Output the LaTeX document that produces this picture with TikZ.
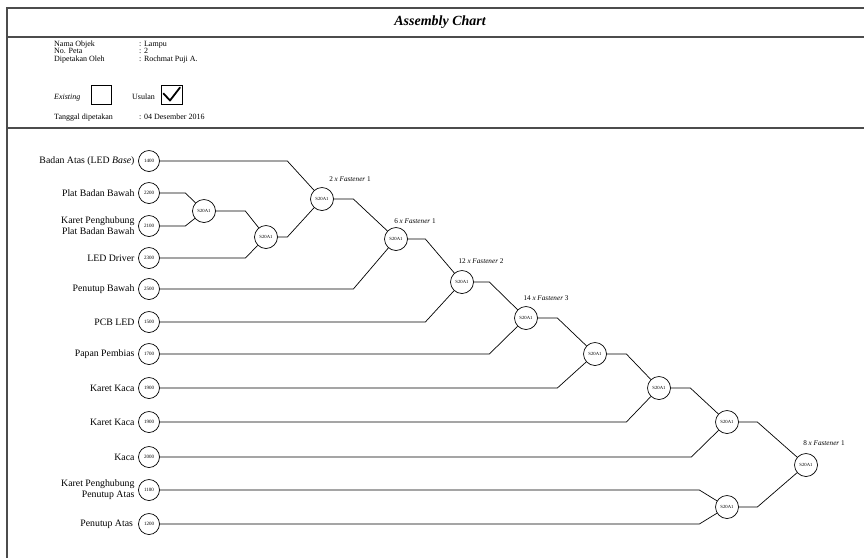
\documentclass[tikz,border=0pt]{standalone}
\usepackage{fontspec}
\setmainfont{Liberation Serif}
\usetikzlibrary{positioning, calc}
\tikzset{
  conn/.style     = {line width=0.7pt},
  frameline/.style = {draw=black!70, line width=1.4pt},
  %% Circle presets
  partc/.style = {circle, draw, line width=0.7pt, minimum size=21pt, inner sep=0pt, font=\fontsize{5}{6}\selectfont},
  asmc/.style  = {circle, draw, line width=0.7pt, minimum size=23pt, inner sep=0pt, font=\fontsize{4.7}{5}\selectfont},
  %% Text presets
  partlbl/.style = {font=\fontsize{9.8}{11}\selectfont, align=right, inner sep=0pt},
  fastlbl/.style = {font=\fontsize{7.2}{8}\selectfont, inner sep=0pt},
  infolbl/.style = {font=\fontsize{8}{9}\selectfont, anchor=base west, inner sep=0pt},
  chkbox/.style  = {draw, line width=0.7pt, minimum width=20pt, minimum height=19pt, inner sep=0pt},
}

\begin{document}
\begin{tikzpicture}[x=1pt, y=-1pt]
\useasboundingbox (0,0) rectangle (864,558);

%% ---- Frame ----
\draw[frameline, line join=miter] (864,8) -- (7,8) -- (7,558);
\draw[frameline] (7,37) -- (864,37);
\draw[frameline] (7,128) -- (864,128);

\node[font=\fontsize{14}{16}\selectfont\bfseries\itshape] (title) at (440,22.5) {Assembly Chart};

%% ---- Header info ----
\node[infolbl] (nama)    at (54,46.7)  {Nama Objek};
\node[infolbl] (namav)   at (139,46.7) {: Lampu};
\node[infolbl] (peta)    at (54,53.6)  {No. Peta};
\node[infolbl] (petav)   at (139,53.6) {: 2};
\node[infolbl] (oleh)    at (54,61)    {Dipetakan Oleh};
\node[infolbl] (olehv)   at (139,61)   {: Rochmat Puji A.};

\node[infolbl] (exist)   at (54,99.4)  {\itshape Existing};
\node[chkbox]  (existbox)  at (101,94.5) {};
\node[infolbl] (usulan)  at (132,99.4) {Usulan};
\node[chkbox, minimum width=21pt] (usulanbox) at (171.5,94.5) {};
\draw[line width=1.8pt, line join=round, line cap=round]
  ($(usulanbox.center)+(-8,-1)$) -- ($(usulanbox.center)+(-1.5,6)$) -- ($(usulanbox.center)+(8.5,-7)$);

\node[infolbl] (tgl)     at (54,119.7)  {Tanggal dipetakan};
\node[infolbl] (tglv)    at (139,119.7) {: 04 Desember 2016};

%% ---- (1) Parts ----
\node[partc] (p1400)  at (149,161) {1400};
\node[partc] (p2200)  at (149,193) {2200};
\node[partc] (p2100)  at (149,226) {2100};
\node[partc] (p2300)  at (149,258) {2300};
\node[partc] (p2500)  at (149,289) {2500};
\node[partc] (p1500)  at (149,322) {1500};
\node[partc] (p1700)  at (149,354) {1700};
\node[partc] (p1900a) at (149,388) {1900};
\node[partc] (p1900b) at (149,422) {1900};
\node[partc] (p2000)  at (149,457) {2000};
\node[partc] (p1100)  at (149,490) {1100};
\node[partc] (p1200)  at (149,524) {1200};

\node[partlbl, left=3.5pt of p1400]  (t1400)  {Badan Atas (LED \textit{Base})};
\node[partlbl, left=3.5pt of p2200]  (t2200)  {Plat Badan Bawah};
\node[partlbl, left=3.5pt of p2100]  (t2100)  {Karet Penghubung\\Plat Badan Bawah};
\node[partlbl, left=3.5pt of p2300]  (t2300)  {LED Driver};
\node[partlbl, left=3.5pt of p2500]  (t2500)  {Penutup Bawah};
\node[partlbl, left=3.5pt of p1500]  (t1500)  {PCB LED};
\node[partlbl, left=3.5pt of p1700]  (t1700)  {Papan Pembias};
\node[partlbl, left=3.5pt of p1900a] (t1900a) {Karet Kaca};
\node[partlbl, left=3.5pt of p1900b] (t1900b) {Karet Kaca};
\node[partlbl, left=3.5pt of p2000]  (t2000)  {Kaca};
\node[partlbl, left=3.5pt of p1100]  (t1100)  {Karet Penghubung\\Penutup Atas};
\node[partlbl, left=5pt of p1200]    (t1200)  {Penutup Atas};

%% ---- (2) Assembly steps ----
\node[asmc] (a1)  at (204,211) {S20A1};
\node[asmc] (a2)  at (266,237) {S20A1};
\node[asmc] (a3)  at (322,199) {S20A1};
\node[asmc] (a4)  at (396,239) {S20A1};
\node[asmc] (a5)  at (462,282) {S20A1};
\node[asmc] (a6)  at (526,318) {S20A1};
\node[asmc] (a7)  at (595,354) {S20A1};
\node[asmc] (a8)  at (659,388) {S20A1};
\node[asmc] (a9)  at (727,422) {S20A1};
\node[asmc] (a10) at (727,507) {S20A1};
\node[asmc] (a11) at (806,465) {S20A1};

%% Fastener notes (above right of the step)
\node[fastlbl] (f3)  at (350,179) {2 \textit{x Fastener} 1};
\node[fastlbl] (f4)  at (415,221) {6 \textit{x Fastener} 1};
\node[fastlbl] (f5)  at (481,261) {12 \textit{x Fastener} 2};
\node[fastlbl] (f6)  at (546,298) {14 \textit{x Fastener} 3};
\node[fastlbl] (f11) at (824,443) {8 \textit{x Fastener} 1};

%% ---- (3) Connectors: straight run, then slant into the step ----
\draw[conn] (p2200.east) -- ++(25.5,0) -- (a1);
\draw[conn] (p2100.east) -- ++(25.5,0) -- (a1);

\draw[conn] (a1.east)    -- ++(29.5,0) -- (a2);
\draw[conn] (p2300.east) -- ++(85.5,0) -- (a2);

\draw[conn] (p1400.east) -- ++(127.5,0) -- (a3);
\draw[conn] (a2.east)    -- ++(9.5,0)   -- (a3);

\draw[conn] (a3.east)    -- ++(19.5,0)  -- (a4);
\draw[conn] (p2500.east) -- ++(193.5,0) -- (a4);

\draw[conn] (a4.east)    -- ++(17.5,0)  -- (a5);
\draw[conn] (p1500.east) -- ++(265.5,0) -- (a5);

\draw[conn] (a5.east)    -- ++(15.5,0)  -- (a6);
\draw[conn] (p1700.east) -- ++(329.5,0) -- (a6);

\draw[conn] (a6.east)     -- ++(19.5,0)  -- (a7);
\draw[conn] (p1900a.east) -- ++(397.5,0) -- (a7);

\draw[conn] (a7.east)     -- ++(19.5,0)  -- (a8);
\draw[conn] (p1900b.east) -- ++(466.5,0) -- (a8);

\draw[conn] (a8.east)    -- ++(19.5,0)  -- (a9);
\draw[conn] (p2000.east) -- ++(531.5,0) -- (a9);

\draw[conn] (p1100.east) -- ++(539.5,0) -- (a10);
\draw[conn] (p1200.east) -- ++(539.5,0) -- (a10);

\draw[conn] (a9.east)  -- ++(18.5,0) -- (a11);
\draw[conn] (a10.east) -- ++(18.5,0) -- (a11);

\end{tikzpicture}
\end{document}
